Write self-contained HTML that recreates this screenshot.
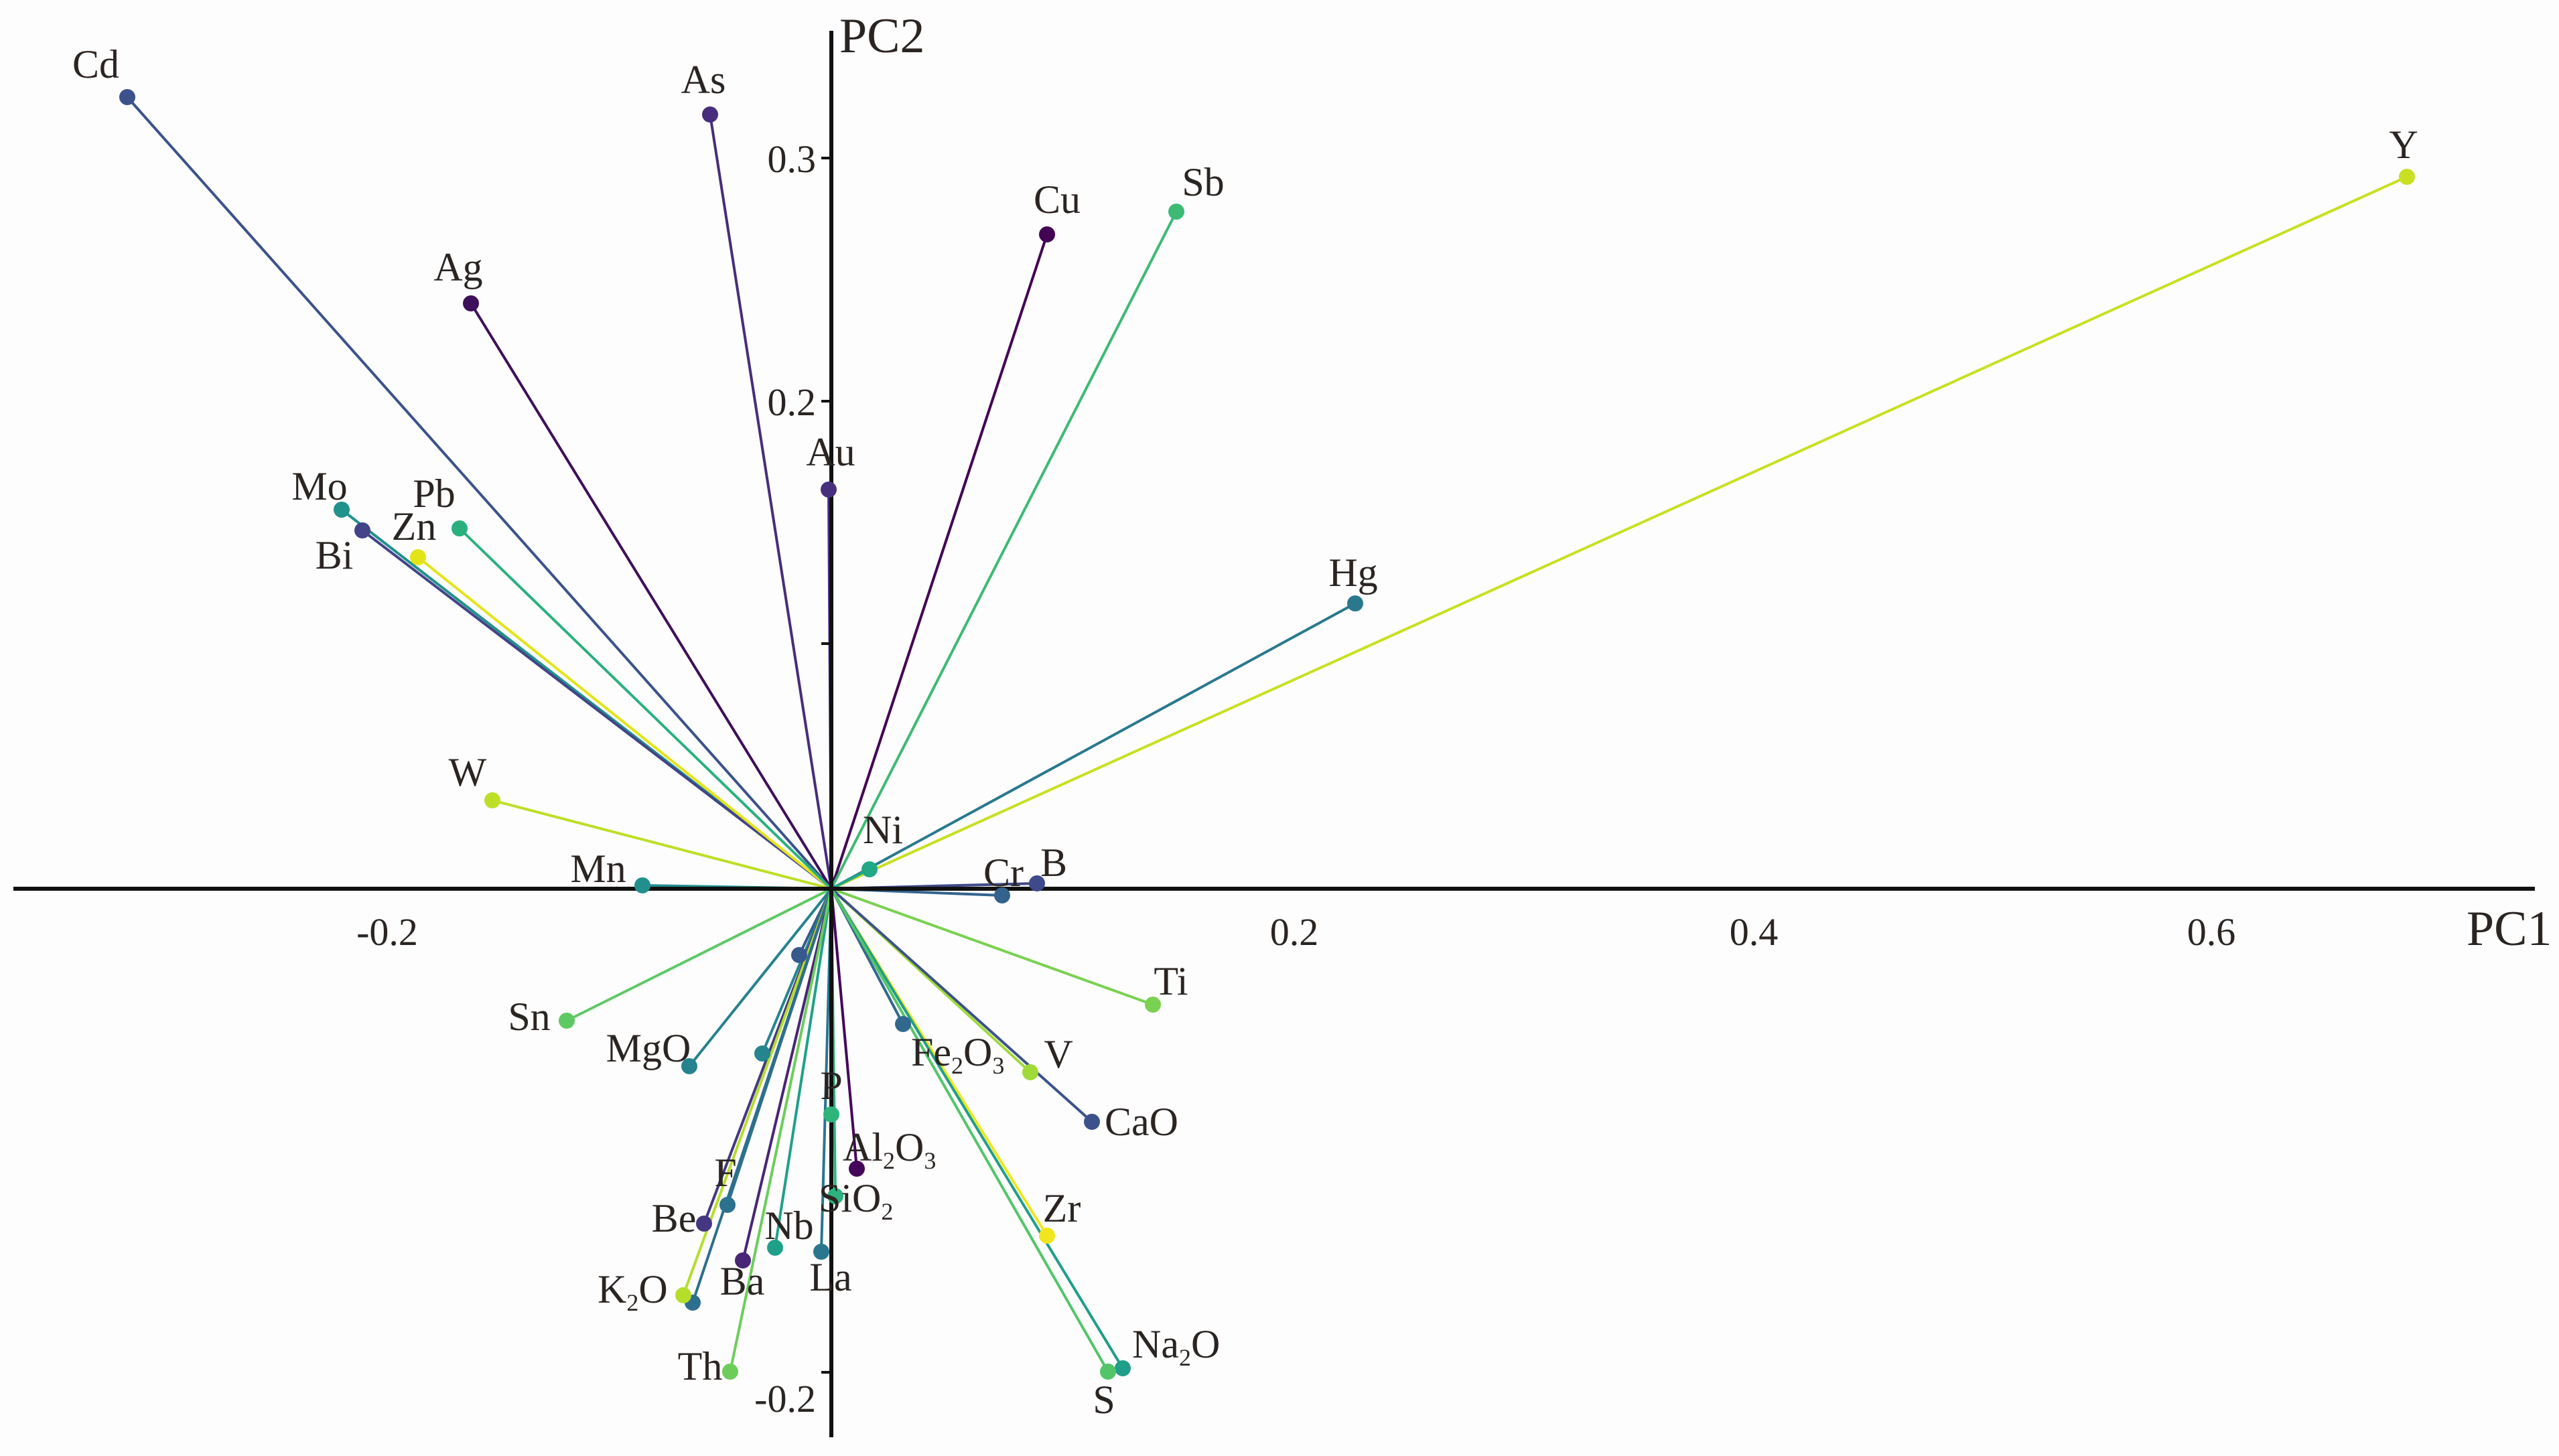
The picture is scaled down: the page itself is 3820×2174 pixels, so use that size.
<!DOCTYPE html>
<html><head><meta charset="utf-8"><style>
html,body{margin:0;padding:0;background:#fdfdfd;}
svg{display:block;}
text{font-family:"Liberation Serif",serif;fill:#2a2522;}
</style></head><body>
<svg width="3820" height="2174" viewBox="0 0 3820 2174" xmlns="http://www.w3.org/2000/svg">
<rect width="3820" height="2174" fill="#fdfdfd"/>
<g stroke-width="4" fill="none">
<line x1="1241" y1="1327" x2="190" y2="145" stroke="#3b528b"/>
<line x1="1241" y1="1327" x2="1060" y2="171" stroke="#472d7b"/>
<line x1="1241" y1="1327" x2="703" y2="453" stroke="#3e0f5a"/>
<line x1="1241" y1="1327" x2="1237" y2="731" stroke="#46307e"/>
<line x1="1241" y1="1327" x2="1563" y2="350" stroke="#440154"/>
<line x1="1241" y1="1327" x2="1756" y2="316" stroke="#3dba74"/>
<line x1="1241" y1="1327" x2="510" y2="761" stroke="#21918c"/>
<line x1="1241" y1="1327" x2="541" y2="792" stroke="#414487"/>
<line x1="1241" y1="1327" x2="624" y2="832" stroke="#e3e418"/>
<line x1="1241" y1="1327" x2="686" y2="789" stroke="#2ab07f"/>
<line x1="1241" y1="1327" x2="735" y2="1195" stroke="#bddf26"/>
<line x1="1241" y1="1327" x2="3593" y2="264" stroke="#c8e020"/>
<line x1="1241" y1="1327" x2="2023" y2="901" stroke="#2a788e"/>
<line x1="1241" y1="1327" x2="1298" y2="1298" stroke="#22a884"/>
<line x1="1241" y1="1327" x2="959" y2="1322" stroke="#21908d"/>
<line x1="1241" y1="1327" x2="1496" y2="1337" stroke="#33638d"/>
<line x1="1241" y1="1327" x2="1548" y2="1319" stroke="#3e4a89"/>
<line x1="1241" y1="1327" x2="1721" y2="1500" stroke="#7ad151"/>
<line x1="1241" y1="1327" x2="846" y2="1524" stroke="#5ec962"/>
<line x1="1241" y1="1327" x2="1029" y2="1592" stroke="#26828e"/>
<line x1="1241" y1="1327" x2="1193" y2="1426" stroke="#38598c"/>
<line x1="1241" y1="1327" x2="1138" y2="1573" stroke="#25858e"/>
<line x1="1241" y1="1327" x2="1348" y2="1529" stroke="#31688e"/>
<line x1="1241" y1="1327" x2="1538" y2="1601" stroke="#a0da39"/>
<line x1="1241" y1="1327" x2="1630" y2="1675" stroke="#3b528b"/>
<line x1="1241" y1="1327" x2="1241" y2="1664" stroke="#2fb47c"/>
<line x1="1241" y1="1327" x2="1279" y2="1745" stroke="#450559"/>
<line x1="1241" y1="1327" x2="1247" y2="1786" stroke="#2db27d"/>
<line x1="1241" y1="1327" x2="1086" y2="1799" stroke="#2c728e"/>
<line x1="1241" y1="1327" x2="1051" y2="1827" stroke="#453781"/>
<line x1="1241" y1="1327" x2="1157" y2="1863" stroke="#1fa088"/>
<line x1="1241" y1="1327" x2="1109" y2="1882" stroke="#482576"/>
<line x1="1241" y1="1327" x2="1226" y2="1869" stroke="#2a768e"/>
<line x1="1241" y1="1327" x2="1020" y2="1934" stroke="#b5de2b"/>
<line x1="1241" y1="1327" x2="1034" y2="1945" stroke="#2e6e8e"/>
<line x1="1241" y1="1327" x2="1090" y2="2048" stroke="#6ccd5a"/>
<line x1="1241" y1="1327" x2="1563" y2="1845" stroke="#f1e51d"/>
<line x1="1241" y1="1327" x2="1676" y2="2043" stroke="#1f9e89"/>
<line x1="1241" y1="1327" x2="1654" y2="2048" stroke="#52c569"/>
</g>
<g stroke="#111" stroke-width="6">
<line x1="20" y1="1327" x2="3784" y2="1327"/>
<line x1="1241" y1="46" x2="1241" y2="2146"/>
</g>
<g stroke="#111" stroke-width="4">
<line x1="1226" y1="236" x2="1241" y2="236"/>
<line x1="1226" y1="599" x2="1241" y2="599"/>
<line x1="1226" y1="961" x2="1241" y2="961"/>
<line x1="1226" y1="2049" x2="1241" y2="2049"/>
</g>
<g>
<circle cx="190" cy="145" r="12" fill="#3b528b"/>
<circle cx="1060" cy="171" r="12" fill="#472d7b"/>
<circle cx="703" cy="453" r="12" fill="#3e0f5a"/>
<circle cx="1237" cy="731" r="12" fill="#46307e"/>
<circle cx="1563" cy="350" r="12" fill="#440154"/>
<circle cx="1756" cy="316" r="12" fill="#3dba74"/>
<circle cx="510" cy="761" r="12" fill="#21918c"/>
<circle cx="541" cy="792" r="12" fill="#414487"/>
<circle cx="624" cy="832" r="12" fill="#e3e418"/>
<circle cx="686" cy="789" r="12" fill="#2ab07f"/>
<circle cx="735" cy="1195" r="12" fill="#bddf26"/>
<circle cx="3593" cy="264" r="12" fill="#c8e020"/>
<circle cx="2023" cy="901" r="12" fill="#2a788e"/>
<circle cx="1298" cy="1298" r="12" fill="#22a884"/>
<circle cx="959" cy="1322" r="12" fill="#21908d"/>
<circle cx="1496" cy="1337" r="12" fill="#33638d"/>
<circle cx="1548" cy="1319" r="12" fill="#3e4a89"/>
<circle cx="1721" cy="1500" r="12" fill="#7ad151"/>
<circle cx="846" cy="1524" r="12" fill="#5ec962"/>
<circle cx="1029" cy="1592" r="12" fill="#26828e"/>
<circle cx="1193" cy="1426" r="12" fill="#38598c"/>
<circle cx="1138" cy="1573" r="12" fill="#25858e"/>
<circle cx="1348" cy="1529" r="12" fill="#31688e"/>
<circle cx="1538" cy="1601" r="12" fill="#a0da39"/>
<circle cx="1630" cy="1675" r="12" fill="#3b528b"/>
<circle cx="1241" cy="1664" r="12" fill="#2fb47c"/>
<circle cx="1279" cy="1745" r="12" fill="#450559"/>
<circle cx="1247" cy="1786" r="12" fill="#2db27d"/>
<circle cx="1086" cy="1799" r="12" fill="#2c728e"/>
<circle cx="1051" cy="1827" r="12" fill="#453781"/>
<circle cx="1157" cy="1863" r="12" fill="#1fa088"/>
<circle cx="1109" cy="1882" r="12" fill="#482576"/>
<circle cx="1226" cy="1869" r="12" fill="#2a768e"/>
<circle cx="1034" cy="1945" r="12" fill="#2e6e8e"/>
<circle cx="1020" cy="1934" r="12" fill="#b5de2b"/>
<circle cx="1090" cy="2048" r="12" fill="#6ccd5a"/>
<circle cx="1563" cy="1845" r="12" fill="#f1e51d"/>
<circle cx="1676" cy="2043" r="12" fill="#1f9e89"/>
<circle cx="1654" cy="2048" r="12" fill="#52c569"/>
</g>
<g font-size="60" text-anchor="middle">
<text x="143" y="116">Cd</text>
<text x="1050" y="139">As</text>
<text x="684" y="419">Ag</text>
<text x="1240" y="695">Au</text>
<text x="1578" y="318">Cu</text>
<text x="1796" y="292">Sb</text>
<text x="477" y="746">Mo</text>
<text x="499" y="849">Bi</text>
<text x="618" y="806">Zn</text>
<text x="648" y="757">Pb</text>
<text x="3588" y="236">Y</text>
<text x="2020" y="875">Hg</text>
<text x="698" y="1173">W</text>
<text x="1318" y="1259">Ni</text>
<text x="893" y="1317">Mn</text>
<text x="1498" y="1323">Cr</text>
<text x="1573" y="1308">B</text>
<text x="1748" y="1485">Ti</text>
<text x="790" y="1538">Sn</text>
<text x="968" y="1585">MgO</text>
<text x="1580" y="1594">V</text>
<text x="1241" y="1641">P</text>
<text x="1083" y="1771">F</text>
<text x="1006" y="1839">Be</text>
<text x="1178" y="1850">Nb</text>
<text x="1108" y="1933">Ba</text>
<text x="1240" y="1927">La</text>
<text x="1045" y="2060">Th</text>
<text x="1585" y="1824">Zr</text>
<text x="1648" y="2110">S</text>
</g>
<g font-size="60">
<text x="1360" y="1591">Fe<tspan font-size="36" dy="12">2</tspan><tspan dy="-12">O</tspan><tspan font-size="36" dy="12">3</tspan></text>
<text x="1649" y="1695">CaO</text>
<text x="1258" y="1733">Al<tspan font-size="36" dy="12">2</tspan><tspan dy="-12">O</tspan><tspan font-size="36" dy="12">3</tspan></text>
<text x="1222" y="1809">SiO<tspan font-size="36" dy="12">2</tspan></text>
<text x="892" y="1945">K<tspan font-size="36" dy="12">2</tspan><tspan dy="-12">O</tspan></text>
<text x="1690" y="2027">Na<tspan font-size="36" dy="12">2</tspan><tspan dy="-12">O</tspan></text>
</g>
<g font-size="58">
<text x="1218" y="257" text-anchor="end">0.3</text>
<text x="1218" y="620" text-anchor="end">0.2</text>
<text x="1218" y="2108" text-anchor="end">-0.2</text>
<text x="578" y="1411" text-anchor="middle">-0.2</text>
<text x="1932" y="1411" text-anchor="middle">0.2</text>
<text x="2618" y="1411" text-anchor="middle">0.4</text>
<text x="3301" y="1411" text-anchor="middle">0.6</text>
</g>
<g font-size="74">
<text x="1253" y="78">PC2</text>
<text x="3682" y="1411">PC1</text>
</g>
</svg>
</body></html>
